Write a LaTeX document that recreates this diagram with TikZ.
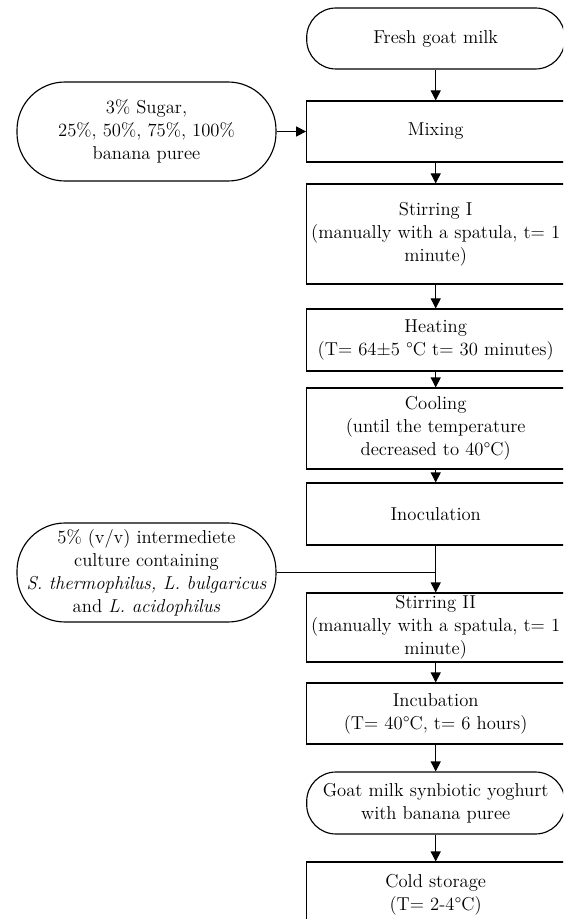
\documentclass[tikz,border=0pt]{standalone}
\usepackage{tikz}
\usetikzlibrary{arrows.meta}

\begin{document}
\begin{tikzpicture}[x=0.75pt,y=-0.75pt,line width=0.85pt]
\tikzstyle{every node}+=[inner sep=2pt,align=center,font=\fontsize{14}{17.25}\selectfont]
\tikzstyle{stepbox}=[draw,minimum width=193.5pt]
\tikzstyle{term}=[draw,minimum width=193.5pt,minimum height=45.75pt,rounded corners=22pt]
\tikzstyle{input}=[draw,minimum width=194.25pt,minimum height=74.25pt,rounded corners=36pt]
\tikzstyle{flow}=[-{Triangle[width=7.5pt,length=7.5pt]}]

\clip (0,0) rectangle (563,919);

\node (fresh) at (435.7,38.5) [term] {Fresh goat milk};
\node (mix) at (435.7,131.5) [stepbox,minimum height=45.75pt] {Mixing};
\node (stir1) at (435.7,234) [stepbox,minimum height=75pt] {Stirring I\\(manually with a spatula, t= 1\\minute)};
\node (heat) at (435.7,340) [stepbox,minimum height=46.5pt] {Heating\\(T= 64±5 °C t= 30 minutes)};
\node (cool) at (435.7,428.5) [stepbox,minimum height=60.75pt] {Cooling\\(until the temperature\\decreased to 40°C)};
\node (inoc) at (435.7,514) [stepbox,minimum height=46.5pt] {Inoculation};
\node (stir2) at (435.7,627.5) [stepbox,minimum height=51.75pt,inner sep=0.5pt] {Stirring II\\(manually with a spatula, t= 1\\minute)};
\node (incub) at (435.7,713.5) [stepbox,minimum height=45.75pt] {Incubation\\(T= 40°C, t= 6 hours)};
\node (yog) at (435.7,803) [term,minimum height=46.5pt] {Goat milk synbiotic yoghurt\\with banana puree};
\node (cold) at (435.7,895) [stepbox,minimum height=49.5pt] {Cold storage\\(T= 2-4°C)};

\node (sugar) at (146.5,131.5) [input] {3\% Sugar,\\25\%, 50\%, 75\%, 100\%\\banana puree};
\node (cult) at (146.5,572.5) [input] {5\% (v/v) intermediete\\culture containing\\\textit{S. thermophilus, L. bulgaricus}\\and \textit{L. acidophilus}};

\draw [flow] (fresh) -- (mix);
\draw [flow] (sugar) -- (mix);
\draw [flow] (mix) -- (stir1);
\draw [flow] (stir1) -- (heat);
\draw [flow] (heat) -- (cool);
\draw [flow] (cool) -- (inoc);
\draw (cult.east) -- (cult.east -| inoc.south);
\draw [flow] (inoc) -- (stir2);
\draw [flow] (stir2) -- (incub);
\draw [flow] (incub) -- (yog);
\draw [flow] (yog) -- (cold);
\end{tikzpicture}
\end{document}
